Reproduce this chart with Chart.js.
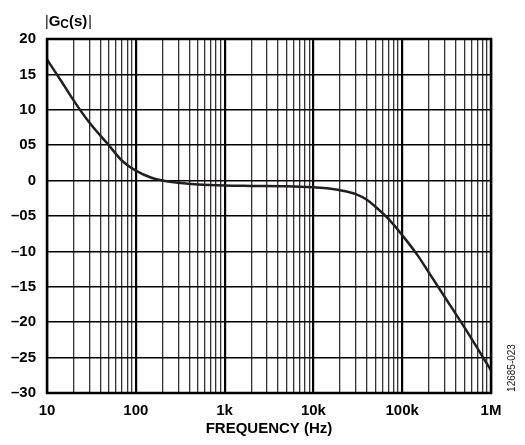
<!DOCTYPE html>
<html lang="en">
<head>
  <meta charset="UTF-8" />
  <title>|GC(s)| vs Frequency</title>
  <script src="https://cdn.jsdelivr.net/npm/chart.js"></script>
  <style>
    body {
      margin: 0;
      background: #fff;
    }
    #wrap {
      width: 525px;
      height: 445px;
    }
  </style>
</head>
<body>

  <div id="wrap">
    <canvas id="grafico" width="525" height="445"></canvas>
  </div>

  <script>
    // frequenze (Hz) e modulo |Gc(s)|
    const freq = [10, 15, 20, 30, 50, 70, 100, 150, 200, 300, 500, 1000, 2000, 5000,
                  10000, 15000, 20000, 30000, 40000, 50000, 70000, 100000, 150000, 200000,
                  300000, 500000, 1000000];
    const gain = [17.1, 13.75, 11.3, 8.2, 4.95, 2.8, 1.4, 0.4, 0.0, -0.3, -0.55, -0.7, -0.75, -0.8,
                  -0.95, -1.1, -1.35, -1.9, -2.7, -3.7, -5.4, -7.7, -10.6, -13.0,
                  -16.4, -20.7, -26.8];

    // etichette asse x (decadi) e moltiplicatori per le linee minori
    const decadi = [10, 100, 1000, 10000, 100000, 1000000];
    const decadiLabel = ['10', '100', '1k', '10k', '100k', '1M'];
    const multipli = [1, 2, 3, 4, 5, 6, 7, 8, 9];

    // etichette asse y
    const yTicks = [20, 15, 10, 5, 0, -5, -10, -15, -20, -25, -30];
    const yLabel = ['20', '15', '10', '05', '0', '–05', '–10', '–15', '–20', '–25', '–30'];

    const FONT = "Arial, 'Liberation Sans', sans-serif";

    const xTicks = [];
    decadi.forEach(d => {
      if (d === 1000000) { xTicks.push(d); return; }
      multipli.forEach(m => xTicks.push(d * m));
    });

    const punti = freq.map((f, i) => ({ x: f, y: gain[i] }));

    // titolo, bordo e codice figura
    const extra = {
      id: 'extra',
      afterDraw(chart) {
        const ctx = chart.ctx;
        const a = chart.chartArea;
        ctx.save();
        ctx.strokeStyle = '#000';
        ctx.lineWidth = 2.5;
        ctx.strokeRect(a.left, a.top, a.right - a.left, a.bottom - a.top);

        // |Gc(s)|
        ctx.fillStyle = '#000';
        ctx.textBaseline = 'alphabetic';
        let x = 45;
        ctx.font = '14px ' + FONT;
        ctx.fillText('|', x, 26);
        x += ctx.measureText('|').width;
        ctx.font = 'bold 15px ' + FONT;
        ctx.fillText('G', x, 26);
        x += ctx.measureText('G').width;
        ctx.font = 'bold 12px ' + FONT;
        ctx.fillText('C', x, 28);
        x += ctx.measureText('C').width;
        ctx.font = 'bold 15px ' + FONT;
        ctx.fillText('(s)', x, 26);
        x += ctx.measureText('(s)').width + 1;
        ctx.font = '14px ' + FONT;
        ctx.fillText('|', x, 26);

        // codice figura ruotato
        ctx.translate(512, 368);
        ctx.rotate(-Math.PI / 2);
        ctx.font = '10px ' + FONT;
        ctx.fillStyle = '#222';
        ctx.textAlign = 'center';
        ctx.textBaseline = 'middle';
        ctx.fillText('12685-023', 0, 0);
        ctx.restore();
      }
    };

    new Chart(document.getElementById('grafico').getContext('2d'), {
      type: 'line',
      data: {
        datasets: [{
          data: punti,
          borderColor: '#231f20',
          borderWidth: 2.5,
          pointRadius: 0,
          fill: false,
          cubicInterpolationMode: 'monotone'
        }]
      },
      options: {
        responsive: false,
        animation: false,
        layout: { padding: { top: 39, right: 34, left: 0, bottom: 0 } },
        plugins: {
          legend: { display: false },
          tooltip: { enabled: false }
        },
        scales: {
          x: {
            type: 'logarithmic',
            min: 10,
            max: 1000000,
            afterBuildTicks: s => { s.ticks = xTicks.map(v => ({ value: v })); },
            afterFit: s => { s.height = 52; },
            grid: {
              drawTicks: false,
              color: c => decadi.includes(c.tick && c.tick.value) ? '#000' : '#333',
              lineWidth: c => decadi.includes(c.tick && c.tick.value) ? 2.2 : 1.3
            },
            border: { display: false },
            ticks: {
              autoSkip: false,
              maxRotation: 0,
              padding: 9,
              color: '#000',
              font: { family: FONT, size: 15, weight: 'bold' },
              callback: v => {
                const i = decadi.indexOf(v);
                return i >= 0 ? decadiLabel[i] : '';
              }
            },
            title: {
              display: true,
              text: 'FREQUENCY (Hz)',
              color: '#000',
              font: { family: FONT, size: 15, weight: 'bold' },
              padding: { top: 0, bottom: 7 }
            }
          },
          y: {
            min: -30,
            max: 20,
            afterBuildTicks: s => { s.ticks = yTicks.map(v => ({ value: v })); },
            afterFit: s => { s.width = 47; },
            grid: {
              drawTicks: false,
              color: '#000',
              lineWidth: 1.5
            },
            border: { display: false },
            ticks: {
              padding: 11,
              color: '#000',
              font: { family: FONT, size: 15, weight: 'bold' },
              callback: v => {
                const i = yTicks.indexOf(v);
                return i >= 0 ? yLabel[i] : '';
              }
            }
          }
        }
      },
      plugins: [extra]
    });
  </script>

</body>
</html>
